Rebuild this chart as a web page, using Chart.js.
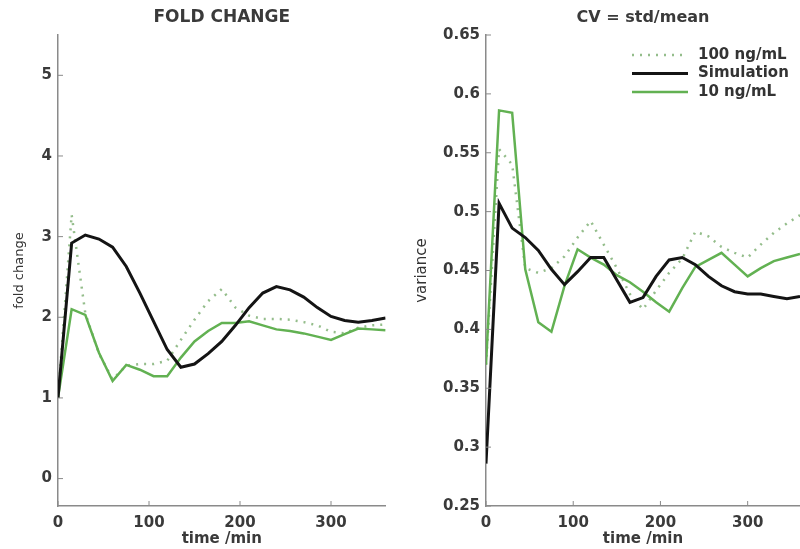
<!DOCTYPE html>
<html>
<head>
<meta charset="utf-8">
<script src="https://cdn.jsdelivr.net/npm/chart.js@4.4.1/dist/chart.umd.min.js"></script>
<style>
html, body { margin: 0; padding: 0; background: #fff; overflow: hidden; }
#wrap { position: relative; width: 800px; height: 549px; }
canvas { position: absolute; top: 0; }
#foldCanvas { left: 0; }
#cvCanvas { left: 400px; }
</style>
</head>
<body>
<div id="wrap">
  <canvas id="foldCanvas" width="400" height="549"></canvas>
  <canvas id="cvCanvas" width="400" height="549"></canvas>
</div>
<script>
// time points (min)
var times = [0, 15, 30, 45, 60, 75, 90, 105, 120, 135, 150, 165, 180, 195, 210, 225, 240, 255, 270, 285, 300, 315, 330, 345, 360];

// fold change panel
var foldSim  = [1.00, 2.92, 3.02, 2.97, 2.87, 2.63, 2.30, 1.95, 1.60, 1.38, 1.42, 1.55, 1.70, 1.90, 2.12, 2.30, 2.38, 2.34, 2.25, 2.12, 2.01, 1.96, 1.94, 1.96, 1.99];
var fold100  = [1.00, 3.27, 2.05, 1.55, 1.23, 1.40, 1.42, 1.42, 1.46, 1.72, 1.97, 2.20, 2.35, 2.12, 2.02, 1.98, 1.98, 1.97, 1.94, 1.90, 1.82, 1.80, 1.87, 1.90, 1.91];
var fold10   = [1.00, 2.10, 2.03, 1.56, 1.21, 1.41, 1.35, 1.27, 1.27, 1.50, 1.70, 1.83, 1.93, 1.93, 1.95, 1.90, 1.85, 1.83, 1.80, 1.76, 1.72, 1.79, 1.86, 1.85, 1.84];

// CV panel
var cvSim = [0.286, 0.507, 0.486, 0.478, 0.467, 0.451, 0.438, 0.449, 0.461, 0.461, 0.442, 0.423, 0.427, 0.445, 0.459, 0.461, 0.455, 0.445, 0.437, 0.432, 0.430, 0.430, 0.428, 0.426, 0.428];
var cv100 = [0.370, 0.553, 0.540, 0.452, 0.448, 0.452, 0.462, 0.478, 0.492, 0.472, 0.452, 0.430, 0.417, 0.433, 0.448, 0.460, 0.483, 0.479, 0.470, 0.465, 0.461, 0.472, 0.482, 0.490, 0.497];
var cv10  = [0.370, 0.586, 0.584, 0.451, 0.406, 0.398, 0.437, 0.468, 0.461, 0.455, 0.446, 0.440, 0.432, 0.423, 0.415, 0.435, 0.453, 0.459, 0.465, 0.455, 0.445, 0.452, 0.458, 0.461, 0.464];

// ticks
var foldTicks = [0, 1, 2, 3, 4, 5];
var cvTicks = [0.25, 0.3, 0.35, 0.4, 0.45, 0.5, 0.55, 0.6, 0.65];
var timeTicks = [0, 100, 200, 300];

var seriesNames = ['100 ng/mL', 'Simulation', '10 ng/mL'];

Chart.defaults.font.family = "'DejaVu Sans', sans-serif";
Chart.defaults.color = '#333';

function pts(ys) {
    return times.map(function (t, i) { return {x: t, y: ys[i]}; });
}

function makeDatasets(dotted, sim, solid) {
    return [
        {label: seriesNames[1], data: pts(sim), borderColor: '#141414', borderWidth: 3, pointRadius: 0, order: 0},
        {label: seriesNames[2], data: pts(solid), borderColor: '#62b152', borderWidth: 2.5, pointRadius: 0, order: 1},
        {label: seriesNames[0], data: pts(dotted), borderColor: '#94bd8b', borderWidth: 2.5, borderDash: [2, 6], pointRadius: 0, order: 2}
    ];
}

var decor = {
    id: 'decor',
    afterDraw: function (chart) {
        var o = chart.options.plugins.decor;
        var ctx = chart.ctx, a = chart.chartArea;
        var xs = chart.scales.x, ys = chart.scales.y;
        ctx.save();
        // inward tick marks
        ctx.strokeStyle = '#8a8a8a';
        ctx.lineWidth = 1;
        timeTicks.forEach(function (v) {
            var px = xs.getPixelForValue(v);
            ctx.beginPath(); ctx.moveTo(px, a.bottom); ctx.lineTo(px, a.bottom - 5); ctx.stroke();
        });
        ys.ticks.forEach(function (t) {
            var py = ys.getPixelForValue(t.value);
            ctx.beginPath(); ctx.moveTo(a.left, py); ctx.lineTo(a.left + 5, py); ctx.stroke();
        });
        // title
        ctx.fillStyle = '#3a3a3a';
        ctx.font = o.titleFont;
        ctx.textAlign = 'center';
        ctx.textBaseline = 'middle';
        ctx.fillText(o.title, (a.left + a.right) / 2, 18);
        // legend
        if (o.legend) {
            var lg = o.legend;
            ctx.font = "bold 15px 'DejaVu Sans', sans-serif";
            ctx.textAlign = 'left';
            seriesNames.forEach(function (name, i) {
                var ds = chart.data.datasets.filter(function (d) { return d.label === name; })[0];
                var y = lg.y + i * lg.step;
                ctx.strokeStyle = ds.borderColor;
                ctx.lineWidth = ds.borderWidth;
                ctx.setLineDash(ds.borderDash || []);
                ctx.beginPath(); ctx.moveTo(lg.x, y); ctx.lineTo(lg.x + 56, y); ctx.stroke();
                ctx.setLineDash([]);
                ctx.fillStyle = '#333';
                ctx.fillText(name, lg.x + 66, y);
            });
        }
        ctx.restore();
    }
};

function makeChart(id, dsets, yMin, yMax, yTicks, yTitle, yTitleSize, yTitlePad, yWidth, padRight, title, titleFont, legend) {
    var ctx = document.getElementById(id).getContext('2d');
    return new Chart(ctx, {
        type: 'line',
        data: {datasets: dsets},
        options: {
            responsive: false,
            animation: false,
            devicePixelRatio: 1,
            layout: {padding: {top: 35, right: padRight, bottom: 0, left: 0}},
            plugins: {
                legend: {display: false},
                tooltip: {enabled: false},
                decor: {title: title, titleFont: titleFont, legend: legend}
            },
            scales: {
                x: {
                    type: 'linear',
                    min: 0,
                    max: 360,
                    afterBuildTicks: function (s) { s.ticks = timeTicks.map(function (v) { return {value: v}; }); },
                    afterFit: function (s) { s.height = 43; },
                    grid: {display: false, drawTicks: false},
                    border: {display: true, color: '#8a8a8a', width: 1.5},
                    ticks: {padding: 8, font: {size: 15, weight: 'bold'}, color: '#3a3a3a', maxRotation: 0, callback: function (v) { return String(v); }},
                    title: {display: true, text: 'time /min', font: {size: 15, weight: 'bold'}, color: '#3a3a3a', padding: {top: 0, bottom: 1}}
                },
                y: {
                    type: 'linear',
                    min: yMin,
                    max: yMax,
                    afterBuildTicks: function (s) { s.ticks = yTicks.map(function (v) { return {value: v}; }); },
                    afterFit: function (s) { s.width = yWidth; },
                    grid: {display: false, drawTicks: false},
                    border: {display: true, color: '#8a8a8a', width: 1.5},
                    ticks: {padding: 6, font: {size: 15, weight: 'bold'}, color: '#3a3a3a', callback: function (v) { return String(v); }},
                    title: {display: true, text: yTitle, font: {size: yTitleSize}, color: '#333', padding: {top: yTitlePad, bottom: 0}}
                }
            }
        },
        plugins: [decor]
    });
}

makeChart('foldCanvas', makeDatasets(fold100, foldSim, fold10), -0.34, 5.5, foldTicks,
    'fold change', 13, 12, 58, 14.4, 'FOLD CHANGE', "bold 17px 'DejaVu Sans', sans-serif", null);

makeChart('cvCanvas', makeDatasets(cv100, cvSim, cv10), 0.25, 0.65, cvTicks,
    'variance', 15, 13, 86, 0, 'CV = std/mean', "bold 16px 'DejaVu Sans', sans-serif", {x: 232, y: 55, step: 18.5});
</script>
</body>
</html>
